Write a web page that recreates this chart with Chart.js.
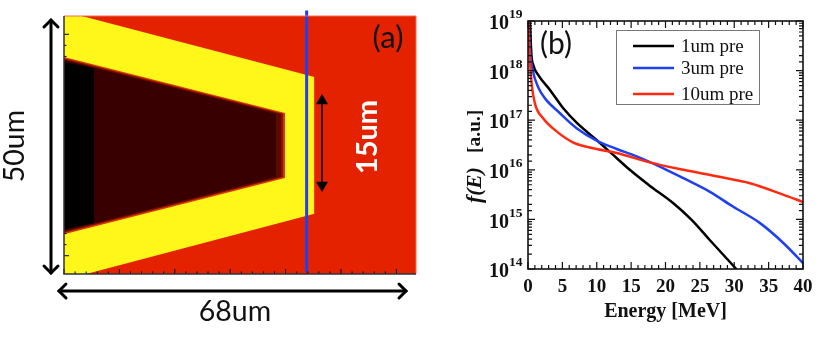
<!DOCTYPE html>
<html><head><meta charset="utf-8">
<script src="https://cdn.jsdelivr.net/npm/chart.js@4"></script>
<style>
html,body{margin:0;padding:0;background:#fff;width:830px;height:337px;overflow:hidden}
canvas{position:absolute;top:0;filter:blur(0.45px)}
#ca{left:0}#cb{left:450px}
</style></head><body>
<canvas id="ca" width="450" height="337"></canvas>
<canvas id="cb" width="380" height="337"></canvas>
<script>
// ---- Panel (b) data: energy [MeV] and log10 f(E)
const seriesLabels = ["1um pre", "3um pre", "10um pre"];
const energy1 = [0.29,0.48,0.77,1.5,3.2,5.13,7.07,9.98,12.15,14.8,17.7,21.1,23.8,26.4,30.3];
const logF1   = [19,18.35,18.11,17.91,17.61,17.24,16.95,16.60,16.33,16.0,15.68,15.33,14.99,14.59,14.0];
const energy3 = [0.1,0.29,0.68,1.5,2.47,4.65,7.07,9.98,12.9,15.8,19.7,22.6,26.4,29.8,33.7,37.1,40];
const logF3   = [19,18.42,18.01,17.66,17.44,17.14,16.84,16.59,16.42,16.27,16.03,15.83,15.56,15.26,14.93,14.53,14.12];
const energy10 = [0.05,0.2,0.53,1.0,2.2,4.2,6.6,10,12.9,17.7,22.6,27.4,32.3,37.1,40];
const logF10   = [19,18.42,17.74,17.34,17.04,16.77,16.55,16.42,16.34,16.15,16.0,15.87,15.73,15.5,15.35];
const colors = ["#000000","#2040f0","#ff2a10"];

// ---- Panel (a) regions, in um from the axis origin / mid-plane
const yellowTop = [[0,23.3],[3.2,23.3],[45.2,12.27],[45.2,0]];
const yellowBot = [[0,-23.3],[4,-23.3],[45.2,-12.4],[45.2,0]];
const edgeTop = [[0,15.9],[39.9,5.8],[39.9,0]];
const edgeBot = [[0,-16.1],[39.9,-5.95],[39.9,0]];
const band1Top = [[0,15.65],[39.6,5.65],[39.6,0]];
const band1Bot = [[0,-15.85],[39.6,-5.8],[39.6,0]];
const band2Top = [[0,15.45],[39.2,5.6],[39.2,0]];
const band2Bot = [[0,-15.65],[39.2,-5.75],[39.2,0]];
const coreTop = [[0,15.3],[38.3,5.6],[38.3,0]];
const coreBot = [[0,-15.5],[38.3,-5.75],[38.3,0]];
const blackTop = [[0,15.0],[5.4,13.9],[5.4,0]];
const blackBot = [[0,-15.2],[5.4,-14.1],[5.4,0]];
const probeLine = [[43.8,24.3],[43.8,-23.0]];

const pts = a => a.map(p => ({x:p[0], y:p[1]}));
function region(top, bot, color, order){
  return [top,bot].map(a => ({type:'scatter',showLine:true,data:pts(a),pointRadius:0,borderWidth:0,
    backgroundColor:color,fill:{value:0},order}));
}
function inwardTicks(ctx, scale, horizontal, pos, dir, maj, min, test){
  ctx.beginPath();
  scale.ticks.forEach(t=>{
    const m = test(t.value); if(!m) return;
    const p = scale.getPixelForValue(t.value), l = m===2?maj:min;
    if(horizontal){ctx.moveTo(p,pos);ctx.lineTo(p,pos+dir*l);}
    else{ctx.moveTo(pos,p);ctx.lineTo(pos+dir*l,p);}
  });
  ctx.stroke();
}
function text(ctx,s,x,y,font,color,rot){
  ctx.save();ctx.translate(x,y);if(rot)ctx.rotate(rot);
  ctx.font=font;ctx.fillStyle=color;ctx.textAlign='center';ctx.textBaseline='middle';
  ctx.fillText(s,0,0);ctx.restore();
}
function chevron(ctx,x,y,dx,dy,s){
  ctx.beginPath();
  ctx.moveTo(x-dx*s+dy*s,y-dy*s+dx*s);ctx.lineTo(x,y);ctx.lineTo(x-dx*s-dy*s,y-dy*s-dx*s);ctx.stroke();
}
function solid(ctx,x,y,dy,s){
  ctx.beginPath();ctx.moveTo(x,y);ctx.lineTo(x-s,y-dy*s*1.7);ctx.lineTo(x+s,y-dy*s*1.7);ctx.closePath();ctx.fill();
}

const panelA = {
  id:'panelA',
  beforeDatasetsDraw(c){
    const a=c.chartArea,ctx=c.ctx;
    ctx.save();ctx.fillStyle='#e52200';ctx.fillRect(a.left,a.top,a.right-a.left,a.bottom-a.top);ctx.restore();
  },
  afterDraw(c){
    const ctx=c.ctx,a=c.chartArea,sx=c.scales.x,sy=c.scales.y;
    ctx.save();
    ctx.strokeStyle='#000';ctx.lineWidth=1;
    const even=v=>{const r=Math.round(v);if(Math.abs(r-v)>1e-6||r%2)return 0;return r%10===0?2:1;};
    inwardTicks(ctx,sx,true,a.bottom,-1,5,2.5,even);
    inwardTicks(ctx,sy,false,a.left,1,5,2.5,even);
    ctx.strokeStyle='#f07050';ctx.lineWidth=1;
    ctx.beginPath();ctx.moveTo(a.left,a.top);ctx.lineTo(a.right,a.top);ctx.lineTo(a.right,a.bottom);ctx.stroke();
    ctx.strokeStyle='#333';ctx.lineWidth=1.5;
    ctx.beginPath();ctx.moveTo(a.left,a.top);ctx.lineTo(a.left,a.bottom);ctx.lineTo(a.right,a.bottom);ctx.stroke();
    ctx.strokeStyle='#000';ctx.fillStyle='#000';ctx.lineWidth=3;ctx.lineCap='round';ctx.lineJoin='miter';
    ctx.beginPath();ctx.moveTo(51,20);ctx.lineTo(51,273);ctx.stroke();
    chevron(ctx,51,20,0,-1,7);chevron(ctx,51,273,0,1,7);
    ctx.beginPath();ctx.moveTo(59,291);ctx.lineTo(406,291);ctx.stroke();
    chevron(ctx,59,291,-1,0,7);chevron(ctx,406,291,1,0,7);
    ctx.lineWidth=1.5;
    ctx.beginPath();ctx.moveTo(322,100);ctx.lineTo(322,186);ctx.stroke();
    solid(ctx,322,94,-1,6);solid(ctx,322,192,1,6);
    text(ctx,'(a)',388,38,'31px Lato','#111');
    text(ctx,'68um',235,312,'28.5px Lato','#111');
    text(ctx,'50um',15,146,'28.5px Lato','#111',-Math.PI/2);
    text(ctx,'15um',368,137,'bold 29px Lato','#fff',-Math.PI/2);
    ctx.restore();
  }
};

const blueLine = {type:'scatter',showLine:true,data:pts(probeLine),pointRadius:0,borderWidth:3,
  borderColor:'#2040f0',clip:false,order:0,fill:false};

new Chart(document.getElementById('ca'),{
  type:'scatter',
  data:{datasets:[
    blueLine,
    ...region(blackTop,blackBot,'#000000',5),
    ...region(coreTop,coreBot,'#380000',6),
    ...region(band2Top,band2Bot,'#5c0a00',7),
    ...region(band1Top,band1Bot,'#8a1400',8),
    ...region(edgeTop,edgeBot,'#d83a08',9),
    ...region(yellowTop,yellowBot,'#fff71a',10)
  ]},
  options:{
    responsive:false,animation:false,
    layout:{padding:{left:64,top:16,right:34,bottom:63}},
    plugins:{legend:{display:false},tooltip:{enabled:false}},
    scales:{
      x:{type:'linear',min:0,max:63.54,ticks:{display:false,stepSize:2},grid:{display:false,drawTicks:false},border:{display:false},
         afterFit(s){s.height=0;}},
      y:{type:'linear',min:-23.3,max:23.3,ticks:{display:false,stepSize:2},grid:{display:false,drawTicks:false},border:{display:false},
         afterFit(s){s.width=0;}}
    }
  },
  plugins:[panelA]
});

const panelB = {
  id:'panelB',
  afterDraw(c){
    const ctx=c.ctx,a=c.chartArea,sx=c.scales.x,sy=c.scales.y;
    ctx.save();
    ctx.strokeStyle='#111';ctx.lineWidth=1.6;
    ctx.strokeRect(a.left,a.top,a.right-a.left,a.bottom-a.top);
    ctx.lineWidth=1.2;
    const xt=v=>v%5===0?2:1;
    const isPow=v=>{const l=Math.log10(v);return Math.abs(l-Math.round(l))<1e-6;};
    const yt=v=>isPow(v)?2:1;
    inwardTicks(ctx,sx,true,a.bottom,-1,7,4,xt);
    inwardTicks(ctx,sx,true,a.top,1,7,4,xt);
    inwardTicks(ctx,sy,false,a.left,1,7,4,yt);
    inwardTicks(ctx,sy,false,a.right,-1,7,4,yt);
    // y tick labels: base and raised exponent
    sy.ticks.forEach(t=>{
      if(!isPow(t.value)) return;
      const p=sy.getPixelForValue(t.value), e=Math.round(Math.log10(t.value));
      ctx.fillStyle='#111';ctx.textBaseline='middle';
      ctx.textAlign='right';ctx.font='bold 20px "Liberation Serif"';ctx.fillText('10',59,p+3);
      ctx.textAlign='left';ctx.font='bold 13.5px "Liberation Serif"';ctx.fillText(String(e),59,p-6);
    });
    // legend
    ctx.fillStyle='#fff';ctx.fillRect(166,30,143,74);
    ctx.strokeStyle='#777';ctx.lineWidth=1;ctx.strokeRect(166.5,30.5,143,74);
    const rows=[46,68,94];
    seriesLabels.forEach((s,i)=>{
      ctx.strokeStyle=colors[i];ctx.lineWidth=2.5;
      ctx.beginPath();ctx.moveTo(183,rows[i]);ctx.lineTo(224,rows[i]);ctx.stroke();
      ctx.font='19px "Liberation Serif"';ctx.fillStyle='#111';ctx.textAlign='left';ctx.textBaseline='middle';
      ctx.fillText(s,231,rows[i]+1);
    });
    text(ctx,'(b)',106,44,'30px Lato','#111');
    ctx.translate(25,203);ctx.rotate(-Math.PI/2);
    ctx.fillStyle='#111';ctx.textBaseline='middle';ctx.textAlign='left';
    ctx.font='italic bold 21.5px "Liberation Serif"';ctx.fillText('f(E)',0,0);
    ctx.font='bold 19.5px "Liberation Serif"';ctx.fillText('[a.u.]',50,0);
    ctx.restore();
  }
};
const tickFont={family:'"Liberation Serif"',weight:'bold',size:19};
function curve(xs,ls,i){
  return {label:seriesLabels[i],data:xs.map((x,k)=>({x,y:Math.pow(10,ls[k])})),showLine:true,pointRadius:0,
    borderColor:colors[i],backgroundColor:colors[i],borderWidth:2.5,cubicInterpolationMode:'monotone',order:3-i};
}
new Chart(document.getElementById('cb'),{
  type:'scatter',
  data:{datasets:[curve(energy1,logF1,0),curve(energy3,logF3,1),curve(energy10,logF10,2)]},
  options:{
    responsive:false,animation:false,
    layout:{padding:{left:0,top:21,right:27,bottom:0}},
    plugins:{legend:{display:false},tooltip:{enabled:false}},
    scales:{
      x:{type:'linear',min:0,max:40,
         ticks:{stepSize:1,autoSkip:false,maxRotation:0,font:tickFont,color:'#111',padding:7,
                callback:v=>v%5===0?String(v):''},
         grid:{display:false,drawTicks:false},border:{display:false},
         title:{display:true,text:'Energy [MeV]',font:{family:'"Liberation Serif"',weight:'bold',size:20},color:'#111',padding:{top:0,bottom:13}},
         afterFit(s){s.height=68;}},
      y:{type:'logarithmic',min:1e14,max:1e19,
         ticks:{display:false},
         grid:{display:false,drawTicks:false},border:{display:false},
         afterFit(s){s.width=78;}}
    }
  },
  plugins:[panelB]
});
</script>
</body></html>
